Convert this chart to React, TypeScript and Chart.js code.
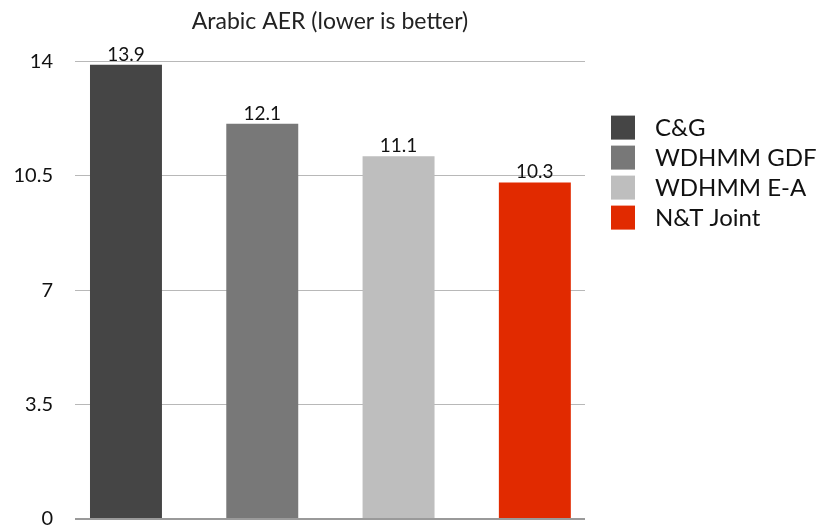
import { useEffect, useRef } from "react";
import { Chart, registerables } from "chart.js";

Chart.register(...registerables);

const chartTitle = "Arabic AER (lower is better)";
const categories = ["C&G", "WDHMM GDF", "WDHMM E-A", "N&T Joint"];
const values = [13.9, 12.1, 11.1, 10.3];
const colors = ["#454545", "#787878", "#bebebe", "#e12a00"];
const yTicks = [0, 3.5, 7, 10.5, 14];

const FONT = "Lato";

const valueLabels = {
  id: "valueLabels",
  afterDatasetsDraw(chart: any) {
    const ctx = chart.ctx;
    ctx.save();
    ctx.font = `19px ${FONT}`;
    ctx.fillStyle = "#111111";
    ctx.textAlign = "center";
    ctx.textBaseline = "alphabetic";
    chart.data.datasets.forEach((_ds: any, i: number) => {
      const meta = chart.getDatasetMeta(i);
      meta.data.forEach((el: any) => {
        ctx.fillText(String(values[i]), el.x, el.y - 4);
      });
    });
    ctx.restore();
  },
};

// legend drawn to the right of the plot area
const sideLegend = {
  id: "sideLegend",
  afterDraw(chart: any) {
    const ctx = chart.ctx;
    const ca = chart.chartArea;
    const boxX = ca.right + 26;
    const textX = boxX + 44;
    const top = ca.top + 54;
    const step = 30;
    const box = 24;
    ctx.save();
    ctx.font = `24px ${FONT}`;
    ctx.textAlign = "left";
    ctx.textBaseline = "middle";
    chart.data.datasets.forEach((ds: any, i: number) => {
      const y = top + i * step;
      ctx.fillStyle = ds.backgroundColor;
      ctx.fillRect(boxX, y, box, box);
      ctx.fillStyle = "#111111";
      ctx.fillText(ds.label, textX, y + box / 2 + 1);
    });
    ctx.restore();
  },
};

export default function App() {
  const ref = useRef<HTMLCanvasElement | null>(null);

  useEffect(() => {
    document.body.style.margin = "0";
    if (!ref.current) return;
    const chart = new Chart(ref.current, {
      type: "bar",
      data: {
        datasets: categories.map((c, i) => ({
          label: c,
          data: [{ x: i, y: values[i] }],
          backgroundColor: colors[i],
          borderWidth: 0,
          grouped: false,
          barPercentage: 0.528,
          categoryPercentage: 1,
        })),
      },
      options: {
        animation: false,
        responsive: false,
        layout: { padding: { left: 0, right: 238, top: 0, bottom: 12 } },
        scales: {
          x: {
            type: "linear",
            display: false,
            offset: false,
            min: -0.374,
            max: 3.368,
            ticks: { display: false, stepSize: 1, includeBounds: false },
            grid: { display: false },
          },
          y: {
            min: 0,
            max: 14,
            afterBuildTicks: (s: any) => {
              s.ticks = yTicks.map((v) => ({ value: v }));
            },
            ticks: {
              padding: 0,
              color: "#111111",
              font: { family: FONT, size: 20 },
              callback: (v: any) => String(v),
            },
            grid: {
              color: (c: any) => (c.tick && c.tick.value === 0 ? "#9a9a9a" : "#b8b8b8"),
              lineWidth: (c: any) => (c.tick && c.tick.value === 0 ? 2 : 1),
              drawTicks: true,
              tickLength: 22,
              tickColor: "rgba(0,0,0,0)",
            },
            border: { display: false },
            afterFit: (s: any) => {
              s.width = 75;
            },
          },
        },
        plugins: {
          title: {
            display: true,
            text: chartTitle,
            fullSize: false,
            color: "#222222",
            font: { family: FONT, size: 23, weight: "normal" },
            padding: { top: 8, bottom: 26 },
          },
          legend: { display: false },
          tooltip: { enabled: false },
        },
      },
      plugins: [valueLabels, sideLegend],
    } as any);
    return () => chart.destroy();
  }, []);

  return (
    <div style={{ position: "absolute", left: 0, top: 0, width: 823, height: 531 }}>
      <canvas ref={ref} width={823} height={531} />
    </div>
  );
}
